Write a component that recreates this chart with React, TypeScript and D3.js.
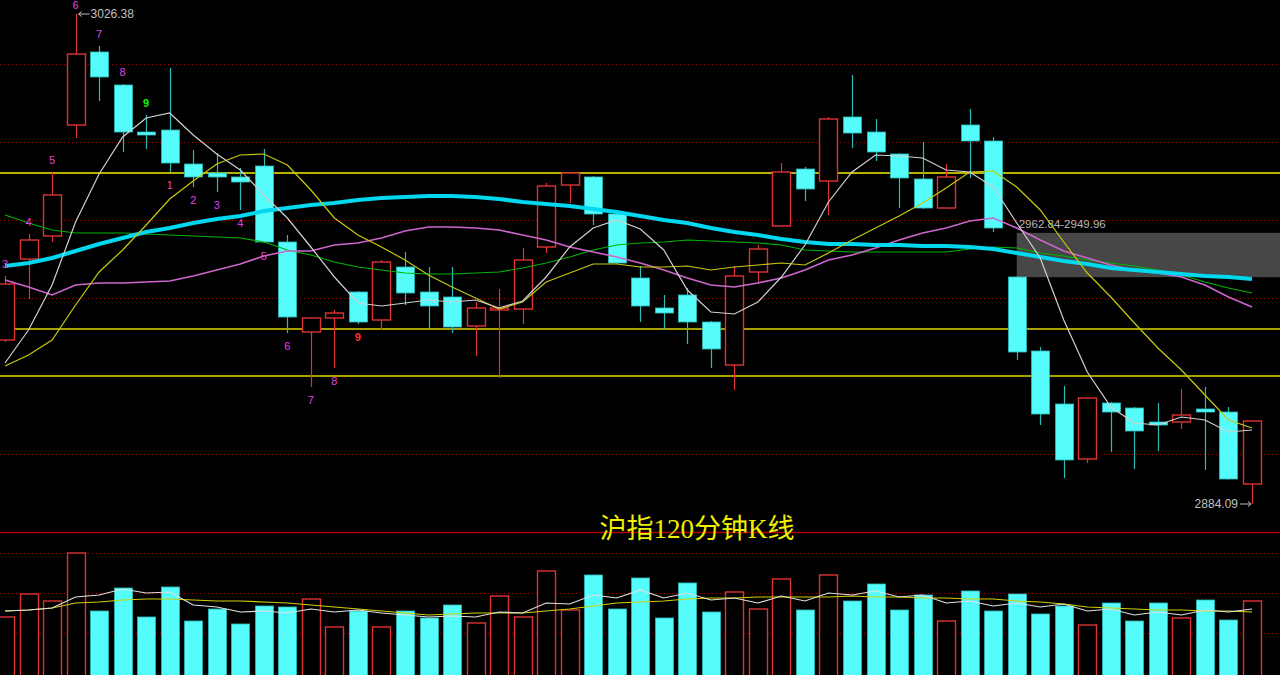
import React from "react";
import * as d3 from "d3";

// ---- price candles (沪指 120 分钟) ----
const opens = [2931.71, 2955.23, 2961.91, 2994.15, 3015.35, 3005.76, 2992.11, 2992.69, 2982.82, 2980.21, 2979.05, 2982.24, 2960.17, 2934.04, 2938.10, 2945.65, 2937.52, 2952.91, 2945.65, 2944.20, 2935.78, 2940.42, 2940.71, 2958.72, 2976.72, 2979.05, 2968.30, 2949.72, 2941.01, 2944.78, 2936.94, 2924.45, 2951.46, 2964.82, 2981.37, 2977.88, 2996.47, 2992.11, 2985.73, 2978.47, 2970.04, 2994.15, 2989.50, 2950.01, 2928.52, 2913.13, 2897.16, 2913.42, 2911.97, 2907.90, 2907.90, 2911.68, 2910.80, 2889.90];
const highs = [2950.30, 2962.49, 2980.50, 3026.38, 3017.09, 3006.05, 2997.05, 3010.70, 2986.89, 2986.02, 2981.66, 2987.18, 2962.20, 2938.39, 2940.42, 2945.94, 2954.94, 2957.27, 2952.91, 2952.91, 2942.75, 2946.52, 2958.43, 2977.30, 2980.50, 2979.34, 2968.88, 2953.20, 2944.78, 2946.81, 2937.23, 2953.20, 2959.30, 2983.11, 2981.95, 2996.47, 3008.67, 2995.89, 2986.02, 2989.21, 2982.82, 2998.79, 2990.66, 2950.10, 2929.68, 2918.35, 2915.16, 2913.71, 2912.26, 2913.42, 2917.48, 2918.06, 2912.26, 2908.30];
const lows = [2931.13, 2943.62, 2960.17, 2990.37, 3001.12, 2986.31, 2987.18, 2980.50, 2976.14, 2974.69, 2969.46, 2959.88, 2933.75, 2918.06, 2923.58, 2936.36, 2934.62, 2941.88, 2934.62, 2933.75, 2927.07, 2920.68, 2936.36, 2956.98, 2971.50, 2965.11, 2953.78, 2936.94, 2934.91, 2930.55, 2923.58, 2917.19, 2948.27, 2964.50, 2972.08, 2968.01, 2987.47, 2983.69, 2970.04, 2969.75, 2969.90, 2978.76, 2963.07, 2925.91, 2907.03, 2891.64, 2895.99, 2899.19, 2894.25, 2899.48, 2905.87, 2893.96, 2891.20, 2884.09];
const closes = [2947.97, 2960.75, 2973.82, 3014.76, 3008.09, 2992.11, 2991.24, 2983.11, 2979.05, 2979.05, 2977.59, 2960.17, 2938.39, 2938.10, 2939.55, 2936.94, 2954.36, 2945.36, 2941.59, 2935.49, 2941.01, 2941.01, 2954.94, 2976.43, 2980.21, 2968.30, 2954.07, 2941.59, 2939.55, 2936.94, 2929.10, 2950.30, 2958.14, 2980.50, 2975.56, 2995.89, 2991.82, 2986.31, 2978.76, 2970.04, 2979.05, 2989.50, 2964.24, 2928.23, 2910.22, 2896.87, 2914.87, 2910.80, 2905.29, 2907.03, 2909.93, 2910.80, 2891.35, 2908.19];

// ---- moving averages ----
const maWhite = [2925.03, 2934.62, 2947.68, 2965.98, 2979.92, 2990.66, 2996.18, 2997.63, 2991.24, 2985.72, 2981.08, 2973.82, 2967.14, 2958.72, 2950.01, 2942.46, 2941.59, 2942.46, 2943.33, 2942.75, 2943.33, 2941.01, 2943.04, 2950.01, 2958.72, 2964.24, 2966.56, 2963.95, 2957.85, 2946.23, 2939.85, 2939.27, 2942.75, 2950.01, 2959.30, 2971.79, 2980.50, 2985.44, 2985.14, 2984.56, 2981.08, 2980.50, 2976.14, 2965.69, 2955.53, 2937.52, 2922.42, 2912.26, 2907.61, 2907.03, 2909.35, 2908.48, 2905.00, 2905.58];
const maYellow = [2924.16, 2927.36, 2931.71, 2941.88, 2951.46, 2957.85, 2965.11, 2972.66, 2977.89, 2982.82, 2985.44, 2985.72, 2982.53, 2975.27, 2967.14, 2962.20, 2958.72, 2954.94, 2950.59, 2947.10, 2943.91, 2940.71, 2942.75, 2948.56, 2951.17, 2953.78, 2953.78, 2952.91, 2952.91, 2953.20, 2952.04, 2952.91, 2953.49, 2954.07, 2953.49, 2956.98, 2960.75, 2964.24, 2967.72, 2971.50, 2975.85, 2980.50, 2980.79, 2976.14, 2969.46, 2960.17, 2951.17, 2944.20, 2936.65, 2929.39, 2923.00, 2915.74, 2908.48, 2906.16];
const maMagenta = [2949.14, 2947.10, 2944.78, 2947.68, 2948.27, 2948.27, 2948.56, 2948.85, 2950.30, 2952.04, 2953.78, 2956.11, 2957.56, 2957.56, 2959.30, 2959.88, 2961.33, 2963.37, 2964.53, 2964.53, 2964.24, 2963.66, 2962.20, 2960.75, 2958.72, 2957.27, 2955.82, 2954.07, 2952.04, 2949.72, 2947.68, 2947.10, 2948.27, 2949.72, 2952.04, 2954.94, 2956.40, 2958.43, 2960.75, 2962.79, 2964.24, 2966.27, 2967.14, 2964.24, 2960.75, 2957.56, 2955.53, 2953.49, 2952.04, 2951.17, 2950.01, 2947.68, 2944.20, 2941.30];
const maGreen = [2968.01, 2965.69, 2963.66, 2962.79, 2962.79, 2962.79, 2962.49, 2962.20, 2961.91, 2961.62, 2961.33, 2960.17, 2957.85, 2956.40, 2954.36, 2952.91, 2952.04, 2951.17, 2950.88, 2950.88, 2951.17, 2951.46, 2952.62, 2954.07, 2955.82, 2957.85, 2959.30, 2959.88, 2960.17, 2960.75, 2960.46, 2960.17, 2959.88, 2959.30, 2957.85, 2957.56, 2957.27, 2957.27, 2957.27, 2957.27, 2957.27, 2958.14, 2958.72, 2958.43, 2956.98, 2956.11, 2954.94, 2954.07, 2953.20, 2952.04, 2950.59, 2948.56, 2946.82, 2945.36];
const maCyan = [2953.20, 2954.07, 2955.53, 2957.56, 2959.59, 2961.33, 2963.07, 2964.24, 2965.69, 2966.85, 2967.72, 2969.17, 2970.04, 2970.91, 2971.50, 2972.37, 2972.95, 2973.24, 2973.53, 2973.53, 2973.24, 2972.66, 2971.79, 2971.21, 2970.63, 2969.75, 2968.88, 2967.72, 2966.56, 2965.69, 2964.24, 2963.07, 2962.20, 2961.04, 2960.17, 2959.59, 2959.59, 2959.30, 2959.30, 2959.01, 2959.01, 2958.72, 2958.14, 2956.98, 2955.82, 2954.65, 2953.78, 2952.62, 2952.04, 2951.46, 2950.88, 2950.30, 2950.01, 2949.43];

// ---- volume ----
const volumes = [1450, 2025, 1850, 3050, 1600, 2175, 1450, 2200, 1350, 1650, 1275, 1725, 1700, 1900, 1200, 1600, 1200, 1600, 1425, 1750, 1300, 1975, 1450, 2600, 1625, 2500, 1650, 2425, 1425, 2300, 1575, 2075, 1650, 2400, 1625, 2500, 1850, 2275, 1625, 2000, 1350, 2100, 1600, 2025, 1525, 1725, 1250, 1800, 1350, 1800, 1425, 1875, 1375, 1850];
const volMaWhite = [1600, 1625, 1675, 1950, 2000, 2150, 2050, 2075, 1750, 1700, 1575, 1600, 1550, 1650, 1575, 1625, 1550, 1500, 1450, 1475, 1450, 1575, 1550, 1800, 1775, 2000, 1925, 2125, 1925, 2050, 1875, 1925, 1800, 1975, 1850, 2050, 2000, 2100, 1950, 2000, 1800, 1850, 1725, 1800, 1700, 1775, 1600, 1650, 1500, 1575, 1500, 1625, 1575, 1650];
const volMaYellow = [1600, 1625, 1675, 1800, 1825, 1875, 1900, 1900, 1875, 1850, 1850, 1825, 1800, 1750, 1700, 1650, 1600, 1550, 1500, 1525, 1550, 1550, 1550, 1600, 1650, 1725, 1800, 1825, 1850, 1900, 1925, 1925, 1950, 1950, 1950, 1950, 1975, 1950, 1950, 1925, 1925, 1900, 1900, 1850, 1825, 1775, 1700, 1675, 1650, 1625, 1625, 1600, 1600, 1575];

// ---- reference levels, grid and labels ----
const levelPrices = [2980.21, 2934.91, 2921.26];
const gridPrices = [3011.86, 2989.21, 2966.56, 2943.91, 2921.26, 2898.61];
const volGrid = [1050, 2050, 3050];
const gapBand = [2962.84, 2949.96];
const gapStartIndex = 43;
const maxIndex = 3;
const minIndex = 53;
const tdIndex = [0, 1, 2, 3, 4, 5, 6, 7, 8, 9, 10, 11, 12, 13, 14, 15];
const tdText = ["3", "4", "5", "6", "7", "8", "9", "1", "2", "3", "4", "5", "6", "7", "8", "9"];
const tdAbove = [true, true, true, true, true, true, true, false, false, false, false, false, false, false, false, false];
const tdKind = ["m", "m", "m", "m", "m", "m", "g", "m", "m", "m", "m", "m", "m", "m", "m", "r"];
const title = "沪指120分钟K线";

const W = 1280;
const H = 675;
const PANE_BOTTOM = 532;

const UP = "#dd3333";
const DOWN_FILL = "#55fcfc";
const DOWN_WICK = "#2fb8b8";

export default function App() {
  const n = closes.length;
  const x = d3.scaleLinear().domain([0, n - 1]).range([5, 1252]);
  const y = d3.scaleLinear().domain([2884.09, 3026.38]).range([504, 14]);
  const yv = d3.scaleLinear().domain([0, 3050]).range([675, 553]);
  const bw = 18;

  const priceLine = d3
    .line<number>()
    .x((_, i) => x(i))
    .y((d) => y(d));
  const volLine = d3
    .line<number>()
    .x((_, i) => x(i))
    .y((d) => yv(d));

  const tdColor = (k: string) => (k === "g" ? "#00ff00" : k === "r" ? "#ff3030" : "#e040e0");

  return (
    <svg
      width={W}
      height={H}
      style={{ position: "fixed", left: 0, top: 0, display: "block", background: "#000" }}
    >
      <rect x={0} y={0} width={W} height={H} fill="#000" />

      {/* grid */}
      {gridPrices.map((p, i) => (
        <line key={"g" + i} x1={0} x2={W} y1={Math.round(y(p)) + 0.5} y2={Math.round(y(p)) + 0.5} stroke="#a00000" strokeWidth={1} strokeDasharray="1,3" />
      ))}
      {volGrid.map((v, i) => (
        <line key={"vg" + i} x1={0} x2={W} y1={Math.round(yv(v)) + 0.5} y2={Math.round(yv(v)) + 0.5} stroke="#a00000" strokeWidth={1} strokeDasharray="1,3" />
      ))}

      {/* gap band */}
      <rect
        x={x(gapStartIndex)}
        y={y(gapBand[0])}
        width={W - x(gapStartIndex)}
        height={y(gapBand[1]) - y(gapBand[0])}
        fill="#474747"
      />
      <text x={x(gapStartIndex) + 2} y={y(gapBand[0]) - 5} fill="#b8b8b8" fontSize={11.5} fontFamily="'Liberation Sans', Arial, sans-serif">
        {gapBand[0].toFixed(2) + "-" + gapBand[1].toFixed(2)}
      </text>

      {/* level lines */}
      {levelPrices.map((p, i) => (
        <line key={"l" + i} x1={0} x2={W} y1={y(p)} y2={y(p)} stroke={i === 0 ? "#b4b400" : "#a8a000"} strokeWidth={2} />
      ))}

      {/* separator */}
      <line x1={0} x2={W} y1={PANE_BOTTOM + 0.5} y2={PANE_BOTTOM + 0.5} stroke="#b00000" strokeWidth={1.5} />

      {/* candles */}
      {closes.map((c, i) => {
        const o = opens[i];
        const up = c >= o;
        const cx = Math.round(x(i)) + 0.5;
        const top = y(Math.max(o, c));
        const bot = y(Math.min(o, c));
        const hgt = Math.max(bot - top, 1.5);
        if (up) {
          return (
            <g key={"c" + i}>
              <line x1={cx} x2={cx} y1={y(highs[i])} y2={top} stroke={UP} strokeWidth={1.2} />
              <line x1={cx} x2={cx} y1={top + hgt} y2={y(lows[i])} stroke={UP} strokeWidth={1.2} />
              <rect x={cx - bw / 2} y={top} width={bw} height={hgt} fill="#000" stroke={UP} strokeWidth={1.4} />
            </g>
          );
        }
        return (
          <g key={"c" + i}>
            <line x1={cx} x2={cx} y1={y(highs[i])} y2={y(lows[i])} stroke={DOWN_WICK} strokeWidth={1.2} />
            <rect x={cx - bw / 2} y={top} width={bw} height={hgt} fill={DOWN_FILL} stroke={DOWN_WICK} strokeWidth={0.8} />
          </g>
        );
      })}

      {/* moving averages */}
      <path d={priceLine(maGreen) || ""} fill="none" stroke="#00b400" strokeWidth={1.2} />
      <path d={priceLine(maMagenta) || ""} fill="none" stroke="#cc66cc" strokeWidth={1.6} />
      <path d={priceLine(maCyan) || ""} fill="none" stroke="#00d8f0" strokeWidth={4} />
      <path d={priceLine(maYellow) || ""} fill="none" stroke="#c8c810" strokeWidth={1.2} />
      <path d={priceLine(maWhite) || ""} fill="none" stroke="#d0d0d0" strokeWidth={1.2} />

      {/* TD sequence labels */}
      {tdIndex.map((idx, k) => (
        <text
          key={"td" + k}
          x={x(idx)}
          y={tdAbove[k] ? Math.max(y(highs[idx]) - 8, 9) : y(lows[idx]) + 17}
          fill={tdColor(tdKind[k])}
          fontSize={11}
          fontWeight={tdKind[k] === "m" ? "normal" : "bold"}
          textAnchor="middle"
          fontFamily="'Liberation Sans', Arial, sans-serif"
        >
          {tdText[k]}
        </text>
      ))}

      {/* max / min annotations */}
      <g stroke="#c0c0c0" strokeWidth={1} fill="none">
        <line x1={x(maxIndex) + 3} x2={x(maxIndex) + 14} y1={y(highs[maxIndex])} y2={y(highs[maxIndex])} />
        <path d={`M${x(maxIndex) + 6},${y(highs[maxIndex]) - 2.5} L${x(maxIndex) + 3},${y(highs[maxIndex])} L${x(maxIndex) + 6},${y(highs[maxIndex]) + 2.5}`} />
        <line x1={x(minIndex) - 12} x2={x(minIndex) - 1} y1={y(lows[minIndex])} y2={y(lows[minIndex])} />
        <path d={`M${x(minIndex) - 4},${y(lows[minIndex]) - 2.5} L${x(minIndex) - 1},${y(lows[minIndex])} L${x(minIndex) - 4},${y(lows[minIndex]) + 2.5}`} />
      </g>
      <text x={x(maxIndex) + 15} y={y(highs[maxIndex]) + 4} fill="#c0c0c0" fontSize={12} fontFamily="'Liberation Sans', Arial, sans-serif">
        {highs[maxIndex].toFixed(2)}
      </text>
      <text x={x(minIndex) - 14} y={y(lows[minIndex]) + 4} fill="#c0c0c0" fontSize={12} textAnchor="end" fontFamily="'Liberation Sans', Arial, sans-serif">
        {lows[minIndex].toFixed(2)}
      </text>

      {/* volume bars */}
      {volumes.map((v, i) => {
        const up = closes[i] >= opens[i];
        const cx = Math.round(x(i)) + 0.5;
        const t = yv(v);
        return up ? (
          <rect key={"v" + i} x={cx - bw / 2} y={t} width={bw} height={H - t + 2} fill="#000" stroke={UP} strokeWidth={1.4} />
        ) : (
          <rect key={"v" + i} x={cx - bw / 2} y={t} width={bw} height={H - t + 2} fill={DOWN_FILL} stroke={DOWN_WICK} strokeWidth={0.8} />
        );
      })}
      <path d={volLine(volMaYellow) || ""} fill="none" stroke="#d0d000" strokeWidth={1.2} />
      <path d={volLine(volMaWhite) || ""} fill="none" stroke="#e0e0e0" strokeWidth={1.2} />

      {/* title */}
      <text
        x={697}
        y={538}
        fill="#f0f000"
        fontSize={27}
        textAnchor="middle"
        fontFamily="'Liberation Serif', 'Noto Sans CJK SC', serif"
      >
        {title}
      </text>
    </svg>
  );
}
